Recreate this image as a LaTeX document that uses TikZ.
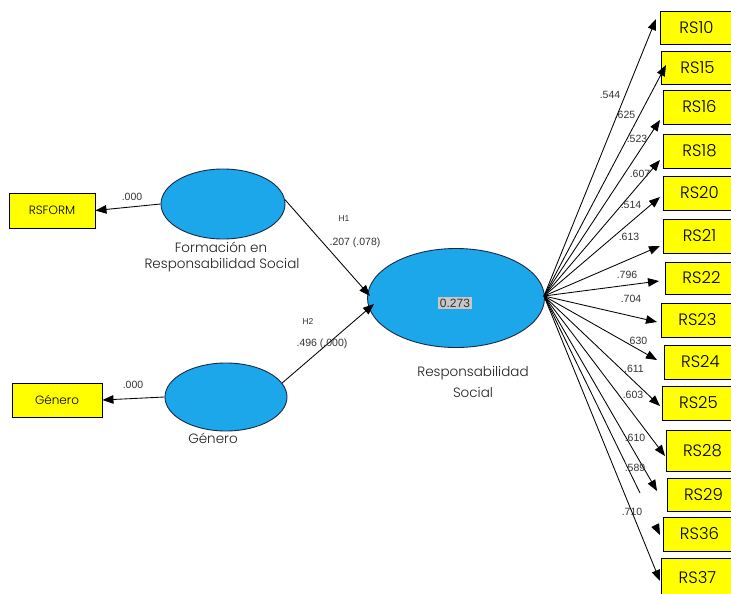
\documentclass[tikz,border=0pt]{standalone}
\usepackage{fontspec}
\setmainfont{Poppins}
\newfontfamily\lightfont{Poppins Light}
\newfontfamily\numfont{Liberation Sans}
\usetikzlibrary{shapes.geometric,arrows.meta,calc}
\definecolor{lvblue}{HTML}{1CA7EA}
\definecolor{lvedge}{HTML}{1A2A44}
\definecolor{boxyellow}{HTML}{FFFF00}
\definecolor{numgray}{HTML}{333333}
\tikzset{
  lv/.style={ellipse, draw=lvedge, line width=0.9pt, fill=lvblue, inner sep=0pt},
  rsbox/.style={draw=black, line width=0.9pt, fill=boxyellow, anchor=west, minimum width=72pt, minimum height=34pt, inner sep=0pt, font=\lightfont\fontsize{16.5}{16}\selectfont},
  smbox/.style={draw=black, line width=0.9pt, fill=boxyellow, inner sep=0pt},
  arr/.style={draw=black, line width=0.85pt, -{Triangle[length=11pt,width=8.5pt]}},
  ln/.style={draw=black, line width=0.85pt},
  num/.style={font=\numfont\fontsize{10.5}{11}\selectfont, text=numgray, inner sep=0pt},
  lvlab/.style={font=\lightfont\fontsize{13.5}{14}\selectfont, text=black!88, inner sep=0pt, align=center}
}
\begin{document}
\begin{tikzpicture}[x=1pt,y=-1pt]
\useasboundingbox (0,0) rectangle (731,594);
% latent variables
\node[lv, minimum width=124pt, minimum height=70pt] (ef) at (223,204) {};
\node[lv, minimum width=122pt, minimum height=68pt] (eg) at (226,397) {};
\node[lv, minimum width=177pt, minimum height=99pt] (ers) at (456,298) {};
\node[fill=black!22, inner sep=2pt, font=\numfont\fontsize{12}{12}\selectfont, text=black!80] (r2) at (455,303) {0.273};
% latent labels
\node[lvlab] (lf1) at (221,247) {Formación en};
\node[lvlab] (lf2) at (222,265) {Responsabilidad Social};
\node[lvlab] (lg) at (213,438) {Género};
\node[lvlab] (lr1) at (473,373) {Responsabilidad};
\node[lvlab] (lr2) at (473,392) {Social};
% left indicators
\node[smbox, minimum width=86pt, minimum height=35pt, font=\lightfont\fontsize{12}{12}\selectfont] (rsform) at (52,210.5) {RSFORM};
\node[smbox, minimum width=90pt, minimum height=34pt, font=\lightfont\fontsize{12}{12}\selectfont] (gen) at (57,400) {Género};
\draw[arr] (ef.west) -- (rsform.east);
\draw[arr] (eg.west) -- (gen.east);
\node[num] (n1) at (132,197) {.000};
\node[num] (n2) at (133,385) {.000};
% structural paths
\coordinate (h1t) at (370,296);
\coordinate (h2t) at (374,304);
\draw[arr] (ef.4) -- (h1t);
\draw[arr] (eg.14) -- (h2t);
\node[num, font=\numfont\fontsize{8.5}{9}\selectfont] (h1) at (344,219) {H1};
\node[num] (p1) at (355,243) {.207 (.078)};
\node[num, font=\numfont\fontsize{8.5}{9}\selectfont] (h2) at (308,322) {H2};
\node[num] (p2) at (322,344) {.496 (.000)};
% right indicators
\node[rsbox, minimum height=33pt] (b10) at (660,27.5) {RS10};
\node[rsbox, minimum height=33pt] (b15) at (661,67.5) {RS15};
\node[rsbox] (b16) at (663,107) {RS16};
\node[rsbox] (b18) at (663,151) {RS18};
\node[rsbox] (b20) at (663,193) {RS20};
\node[rsbox] (b21) at (663,236) {RS21};
\node[rsbox, minimum height=32pt] (b22) at (665,278) {RS22};
\node[rsbox] (b23) at (661,320) {RS23};
\node[rsbox] (b24) at (664,362) {RS24};
\node[rsbox] (b25) at (662,403) {RS25};
\node[rsbox, minimum height=41pt] (b28) at (666,450.5) {RS28};
\node[rsbox, minimum height=33pt] (b29) at (667,494.5) {RS29};
\node[rsbox] (b36) at (663,534) {RS36};
\node[rsbox, minimum height=40pt] (b37) at (661,578) {RS37};
% arrow tips
\coordinate (o) at (544,296);
\coordinate (t10) at (656,19);
\coordinate (t15) at (666,65);
\coordinate (t16) at (660,120);
\coordinate (t18) at (660,160);
\coordinate (t20) at (660,197);
\coordinate (t21) at (660,246);
\coordinate (t22) at (659,281);
\coordinate (t23) at (657,322);
\coordinate (t24) at (657,360);
\coordinate (t25) at (660,406);
\coordinate (t28) at (665,456);
\coordinate (t29) at (657,491);
\coordinate (t36m) at (640,493);
\coordinate (t36) at (660,535);
\coordinate (t37) at (660,581);
\foreach \t in {10,15,16,18,20,21,22,23,24,25,28,29,37}{
  \draw[arr] (o) -- (t\t);
}
\draw[ln] (o) -- (t36m);
\draw[arr] ($(o)!0.97!(t36)$) -- (t36);
% loadings
\node[num] (l10) at (610,95) {.544};
\node[num] (l15) at (625,115) {.625};
\node[num] (l16) at (637,139) {.523};
\node[num] (l18) at (640,174) {.607};
\node[num] (l20) at (631,205) {.514};
\node[num] (l21) at (629,237) {.613};
\node[num] (l22) at (627,275) {.796};
\node[num] (l23) at (631,299) {.704};
\node[num] (l24) at (637,341) {.630};
\node[num] (l25) at (634,369) {.611};
\node[num] (l28) at (633,395) {.603};
\node[num] (l29) at (635,438) {.610};
\node[num] (l29b) at (635,468) {.589};
\node[num] (l37) at (632,512) {.710};
\end{tikzpicture}
\end{document}
